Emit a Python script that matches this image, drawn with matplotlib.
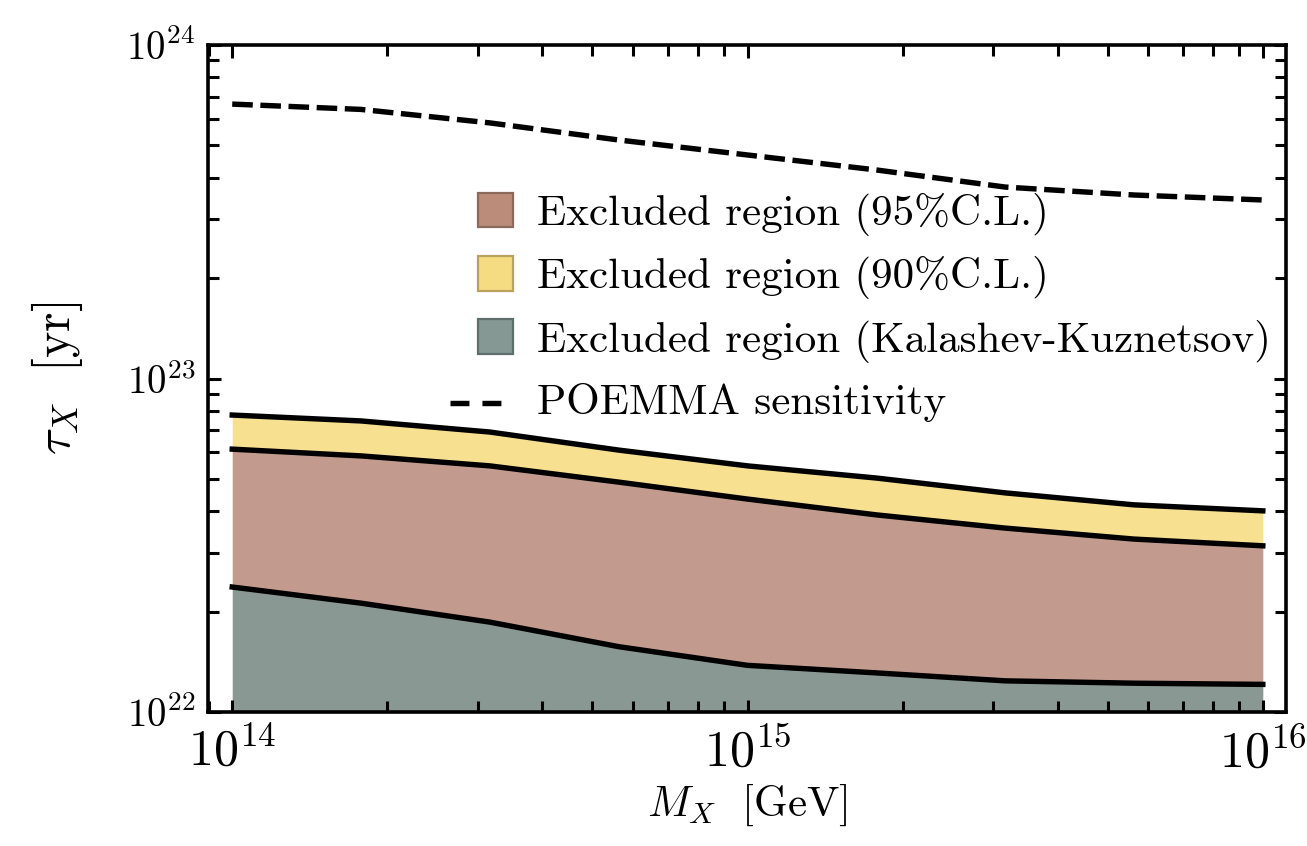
import numpy as np
import matplotlib
matplotlib.use("Agg")
import matplotlib.pyplot as plt
from matplotlib.patches import Rectangle, Patch
from matplotlib.lines import Line2D
from matplotlib.legend_handler import HandlerBase
from matplotlib.ticker import LogLocator, NullFormatter

plt.rcParams['font.family'] = 'serif'
plt.rcParams['font.serif'] = ['cmr10']
plt.rcParams['mathtext.fontset'] = 'cm'
plt.rcParams['axes.formatter.use_mathtext'] = True

# Data
mass = [1e14, 10**14.25, 10**14.5, 10**14.75, 1e15, 10**15.25, 10**15.5, 10**15.75, 1e16]
tau_90 = [7.77e22, 7.46e22, 6.91e22, 6.10e22, 5.47e22, 5.03e22, 4.54e22, 4.18e22, 4.01e22]
tau_95 = [6.14e22, 5.86e22, 5.47e22, 4.89e22, 4.35e22, 3.90e22, 3.56e22, 3.30e22, 3.15e22]
tau_kk = [2.37e22, 2.12e22, 1.86e22, 1.57e22, 1.38e22, 1.31e22, 1.24e22, 1.22e22, 1.21e22]
tau_poemma = [6.65e23, 6.41e23, 5.84e23, 5.19e23, 4.68e23, 4.22e23, 3.75e23, 3.55e23, 3.43e23]
tau_floor = 1e22

labels = ["Excluded region (95%C.L.)", "Excluded region (90%C.L.)",
          "Excluded region (Kalashev-Kuznetsov)", "POEMMA sensitivity"]

c95, c90, ckk = "#C39B8E", "#F7E08F", "#8A9894"

fig = plt.figure(figsize=(13.07, 8.46), dpi=100)
ax = fig.add_axes([208/1307, 134/846, 1078/1307, 667/846])
ax.set_xscale('log')
ax.set_yscale('log')

ax.fill_between(mass, tau_floor, tau_kk, color=ckk, lw=0)
ax.fill_between(mass, tau_kk, tau_95, color=c95, lw=0)
ax.fill_between(mass, tau_95, tau_90, color=c90, lw=0)
for t in (tau_90, tau_95, tau_kk):
    ax.plot(mass, t, color='k', lw=3.9, solid_joinstyle='round')
ax.plot(mass, tau_poemma, color='k', lw=3.9, dashes=(3.8, 1.4))

ax.set_xlim(10**13.953, 10**16.045)
ax.set_ylim(1e22, 1e24)

ax.xaxis.set_major_locator(LogLocator(base=10, numticks=10))
ax.xaxis.set_minor_locator(LogLocator(base=10, subs=np.arange(2, 10), numticks=20))
ax.yaxis.set_major_locator(LogLocator(base=10, numticks=10))
ax.yaxis.set_minor_locator(LogLocator(base=10, subs=np.arange(2, 10), numticks=20))
ax.xaxis.set_minor_formatter(NullFormatter())
ax.yaxis.set_minor_formatter(NullFormatter())

ax.tick_params(which='both', direction='in', top=True, right=True, width=2.2, color='k')
ax.tick_params(which='major', length=9)
ax.tick_params(which='minor', length=8)
ax.tick_params(axis='x', which='major', labelsize=36, pad=11)
ax.tick_params(axis='y', which='major', labelsize=28, pad=9)
for s in ax.spines.values():
    s.set_linewidth(2.6)

ax.set_xlabel(r'$M_X\ \ [\mathrm{GeV}]$', fontsize=31, labelpad=4)
ax.set_ylabel(r'$\tau_X\ \ [\mathrm{yr}]$', fontsize=36, labelpad=30)


class SquarePatch(HandlerBase):
    def create_artists(self, legend, orig_handle, xdescent, ydescent, width, height, fontsize, trans):
        s = 25
        x0 = -xdescent + width - s
        y0 = -ydescent + height / 2 - s / 2
        p = Rectangle((x0, y0), s, s, facecolor=orig_handle.get_facecolor(),
                      edgecolor=orig_handle.get_edgecolor(), lw=1.6, transform=trans)
        return [p]


class ShortDash(HandlerBase):
    def create_artists(self, legend, orig_handle, xdescent, ydescent, width, height, fontsize, trans):
        y = -ydescent + height / 2 - 3
        l = Line2D([-xdescent - 2, -xdescent + 36], [y, y], color='k', lw=3.9,
                   dashes=(3.5, 2.4), transform=trans)
        return [l]


h95 = Patch(facecolor="#BC8C7A", edgecolor="#8B6A5C")
h90 = Patch(facecolor="#F5DC82", edgecolor="#B9A25E")
hkk = Patch(facecolor="#869893", edgecolor="#5E6E6A")
hpo = Line2D([], [], color='k')
leg = ax.legend([h95, h90, hkk, hpo], labels, loc='upper left',
                bbox_to_anchor=(0.227, 0.778), frameon=False, fontsize=31,
                handlelength=1.4, handleheight=0.8, handletextpad=0.55,
                labelspacing=0.47, borderpad=0, borderaxespad=0,
                handler_map={Patch: SquarePatch(), Line2D: ShortDash()})

fig.savefig("out.png", dpi=100)
